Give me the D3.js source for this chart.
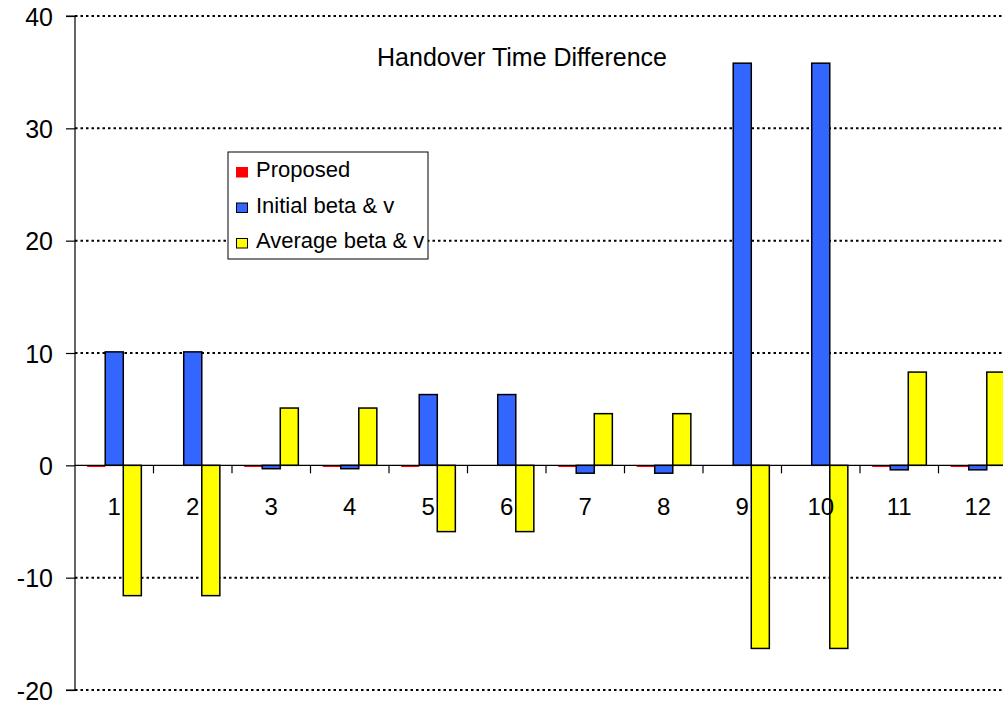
<!DOCTYPE html>
<html>
<head>
<meta charset="utf-8">
<script src="https://cdn.jsdelivr.net/npm/d3@7"></script>
<style>
  html, body { margin: 0; padding: 0; background: #fff; overflow: hidden; }
  svg { display: block; font-family: "Liberation Sans", Arial, sans-serif; }
</style>
</head>
<body>
<svg id="chart" width="1003" height="703"></svg>
<script>
// Handover time difference per scenario, three methods
const categories = ["1", "2", "3", "4", "5", "6", "7", "8", "9", "10", "11", "12"];
const seriesNames = ["Proposed", "Initial beta & v", "Average beta & v"];
const proposed = [-0.15, 0, -0.15, -0.15, -0.15, 0, -0.15, -0.15, 0, 0, -0.15, -0.15];
const initialBetaV = [10.1, 10.1, -0.3, -0.3, 6.3, 6.3, -0.7, -0.7, 35.8, 35.8, -0.4, -0.4];
const averageBetaV = [-11.6, -11.6, 5.1, 5.1, -5.9, -5.9, 4.6, 4.6, -16.3, -16.3, 8.3, 8.3];
const yTicks = [-20, -10, 0, 10, 20, 30, 40];
const colors = ["#ff0000", "#3366ff", "#ffff00"];
const strokes = ["none", "#000", "#000"];

const series = [proposed, initialBetaV, averageBetaV];

const svg = d3.select("#chart");
const plotLeft = 75, plotRight = 1017, plotTop = 16, plotBottom = 690;

const x = d3.scaleBand().domain(categories).range([plotLeft, plotRight]).paddingInner(0).paddingOuter(0);
const y = d3.scaleLinear().domain([-20, 40]).range([plotBottom, plotTop]);

// Bars occupy ~69% of each category slot, split between the three series
const groupW = x.bandwidth() * 0.69;
const xs = d3.scaleBand().domain(d3.range(series.length)).range([0, groupW]).padding(0);

// Dotted horizontal gridlines
svg.append("g")
  .selectAll("line")
  .data(yTicks.filter(t => t !== 0))
  .join("line")
  .attr("x1", plotLeft).attr("x2", plotRight)
  .attr("y1", d => y(d)).attr("y2", d => y(d))
  .attr("stroke", "#000")
  .attr("stroke-width", 2)
  .attr("stroke-dasharray", "2.5,3");

// Y axis (plain hyphen for negatives)
const yAxis = d3.axisLeft(y).tickValues(yTicks).tickSize(9).tickPadding(13).tickFormat(d => String(d));
const gy = svg.append("g").attr("transform", `translate(${plotLeft},0)`).call(yAxis);
gy.attr("font-size", null).attr("font-family", null);
gy.select(".domain").attr("stroke", "#000").attr("stroke-width", 1.2).attr("d", `M-9,${plotTop}H0V${plotBottom}H-9`);
gy.selectAll(".tick line").attr("stroke", "#000").attr("stroke-width", 1.2);
gy.selectAll(".tick text").attr("font-size", 25).attr("fill", "#000").attr("dy", "0.36em");

// Bars
series.forEach((vals, si) => {
  svg.append("g")
    .selectAll("rect")
    .data(vals.map((v, i) => ({ v, c: categories[i] })))
    .join("rect")
    .attr("x", d => x(d.c) + (x.bandwidth() - groupW) / 2 + xs(si))
    .attr("width", xs.bandwidth())
    .attr("y", d => y(Math.max(0, d.v)))
    .attr("height", d => Math.abs(y(d.v) - y(0)))
    .attr("fill", colors[si])
    .attr("stroke", strokes[si])
    .attr("stroke-width", 1.5);
});

// Category axis along zero, with tick marks between categories
const zeroY = y(0);
svg.append("line")
  .attr("x1", plotLeft).attr("x2", plotRight)
  .attr("y1", zeroY).attr("y2", zeroY)
  .attr("stroke", "#000").attr("stroke-width", 1.2);
svg.append("g")
  .selectAll("line")
  .data(categories.slice(1))
  .join("line")
  .attr("x1", d => x(d)).attr("x2", d => x(d))
  .attr("y1", zeroY).attr("y2", zeroY + 8)
  .attr("stroke", "#000").attr("stroke-width", 1.2);
svg.append("g")
  .selectAll("text")
  .data(categories)
  .join("text")
  .attr("x", d => x(d) + x.bandwidth() / 2)
  .attr("y", zeroY + 50)
  .attr("text-anchor", "middle")
  .attr("font-size", 24)
  .attr("fill", "#000")
  .text(d => d);

// Title
svg.append("text")
  .attr("x", 522).attr("y", 66)
  .attr("text-anchor", "middle")
  .attr("font-size", 25)
  .attr("fill", "#000")
  .text("Handover Time Difference");

// Legend
const lg = svg.append("g").attr("transform", "translate(228,152)");
lg.append("rect").attr("width", 200).attr("height", 107)
  .attr("fill", "#fff").attr("stroke", "#000").attr("stroke-width", 1);
seriesNames.forEach((name, i) => {
  const base = 25 + i * 35.5;
  lg.append("rect")
    .attr("x", 8.5).attr("y", base - 9.5).attr("width", 11).attr("height", 9.5)
    .attr("fill", colors[i])
    .attr("stroke", strokes[i] === "none" ? colors[i] : "#000")
    .attr("stroke-width", 1);
  lg.append("text")
    .attr("x", 28).attr("y", base)
    .attr("font-size", 22)
    .attr("fill", "#000")
    .text(name);
});
</script>
</body>
</html>
